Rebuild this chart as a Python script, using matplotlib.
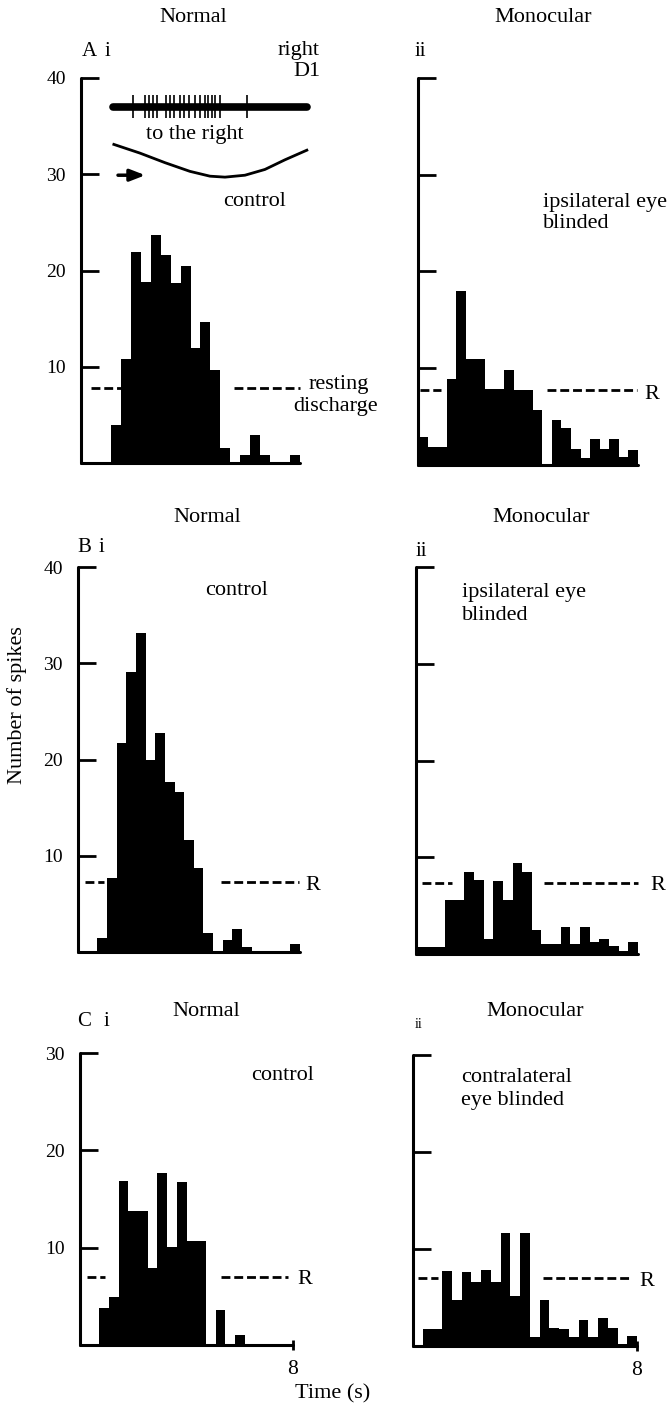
import matplotlib.pyplot as plt
import numpy as np

W, H = 670, 1409
plt.rcParams['font.family'] = ['Liberation Serif', 'DejaVu Serif']

# spike counts per bin, every panel's bins cover 0-8 s
a_normal = [0, 0, 0, 3.9, 10.8, 21.9, 18.8, 23.7, 21.6, 18.7, 20.5, 11.9, 14.7, 9.7,
            1.6, 0, 0.8, 2.9, 0.8, 0, 0, 0.8]
a_mono = [2.9, 1.9, 1.9, 8.9, 18, 11, 11, 7.9, 7.9, 9.8, 7.8, 7.8, 5.7, 0, 4.7, 3.8,
          1.7, 0.75, 2.7, 1.7, 2.7, 0.85, 1.6]
b_normal = [0, 0, 1.5, 7.7, 21.7, 29.1, 33.1, 19.9, 22.8, 17.7, 16.6, 11.6, 8.7, 2.0,
            0, 1.2, 2.4, 0.5, 0, 0, 0, 0, 0.8]
b_mono = [0.7, 0.7, 0.7, 5.6, 5.6, 8.5, 7.7, 1.5, 7.5, 5.6, 9.4, 8.5, 2.5, 1.0, 1.0,
          2.8, 1.0, 2.8, 1.2, 1.5, 0.8, 0.3, 1.2]
c_normal = [0, 0, 3.8, 4.9, 16.8, 13.8, 13.8, 7.9, 17.7, 10.1, 16.7, 10.7, 10.7, 0,
            3.6, 0, 1.0, 0, 0, 0, 0, 0]
c_mono = [0, 1.8, 1.8, 7.7, 4.7, 7.6, 6.6, 7.8, 6.6, 11.6, 5.2, 11.6, 0.9, 4.7, 1.9,
          1.8, 0.9, 2.7, 0.9, 2.85, 1.9, 0.2, 1.0]

# resting discharge level and the two dashed stretches (s)
rest_level = [7.8, 7.8, 7.3, 7.3, 7.0, 7.0]
rest_left = [(0.35, 1.5), (0.07, 0.85), (0.25, 0.95), (0.2, 1.3), (0.25, 0.95), (0.17, 0.9)]
rest_right = [(5.6, 8.0), (4.7, 7.95), (5.15, 7.95), (4.6, 8.0), (5.3, 7.8), (4.65, 7.8)]

# stimulus inset in A i
spike_times = [1.91, 2.34, 2.5, 2.64, 2.79, 3.09, 3.25, 3.39, 3.61, 3.77, 3.94, 4.16,
               4.34, 4.53, 4.65, 4.77, 4.89, 5.07, 6.05]
stim_t = [1.2, 2.15, 3.07, 3.98, 4.71, 5.26, 5.99, 6.72, 7.45, 8.25]
stim_y = [33.1, 32.2, 31.2, 30.3, 29.8, 29.7, 29.9, 30.5, 31.5, 32.5]

# panel boxes in pixels: x left, x right (8 s), y top, y zero
boxes = [(81, 300, 78, 463), (418, 638, 78, 465),
         (78, 300, 567, 952), (416, 638, 567, 954),
         (80, 293, 1053, 1345), (413, 637, 1055, 1346)]
counts = [a_normal, a_mono, b_normal, b_mono, c_normal, c_mono]
ymax = [40, 40, 40, 40, 30, 30]

fig = plt.figure(figsize=(W / 100, H / 100), dpi=100)


def ftext(x, y, s, **kw):
    kw.setdefault('fontsize', 16)
    kw.setdefault('va', 'center')
    fig.text(x / W, 1 - y / H, s, **kw)


axes = []
for k, (x0, x1, yt, y0) in enumerate(boxes):
    ax = fig.add_axes([x0 / W, 1 - y0 / H, (x1 - x0) / W, (y0 - yt) / H])
    vals = counts[k]
    edges = np.linspace(0, 8, len(vals) + 1)
    ax.stairs(vals, edges, fill=True, color='black', lw=0)
    ax.set_xlim(0, 8)
    ax.set_ylim(0, ymax[k])
    for s in ['top', 'right']:
        ax.spines[s].set_visible(False)
    for s in ['left', 'bottom']:
        ax.spines[s].set_linewidth(2.2)
        ax.spines[s].set_capstyle('round')
    ax.set_yticks(np.arange(10, ymax[k] + 1, 10))
    ax.tick_params(axis='y', direction='in', length=13, width=2, pad=11, labelsize=14)
    if k % 2 == 1:
        ax.set_yticklabels([])
    if k >= 4:
        ax.set_xticks([8])
        ax.tick_params(axis='x', direction='inout', length=7, width=2, pad=7, labelsize=15.5)
    else:
        ax.set_xticks([])
    ax.patch.set_alpha(0)
    lv = rest_level[k]
    for a, b in (rest_left[k], rest_right[k]):
        ax.plot([a, b], [lv, lv], color='black', lw=2.0, ls=(0, (3.2, 1.4)),
                solid_capstyle='butt', clip_on=False)
    axes.append(ax)

# A i stimulus record
ax = axes[0]
ax.plot([1.17, 8.25], [37.0, 37.0], color='black', lw=5.5, solid_capstyle='round', clip_on=False)
ax.vlines(spike_times, 35.8, 38.2, color='black', lw=1.2, clip_on=False)
ax.plot(stim_t, stim_y, color='black', lw=2, clip_on=False)
ax.annotate('', xy=(2.45, 29.9), xytext=(1.25, 29.9),
            arrowprops=dict(arrowstyle='-|>,head_length=0.9,head_width=0.35', color='black', lw=2.5))

# titles and labels
for x, y in [(193, 18), (207, 517), (206, 1012)]:
    ftext(x, y, 'Normal', ha='center')
for x, y in [(543, 18), (541, 518), (535, 1012)]:
    ftext(x, y, 'Monocular', ha='center')

ftext(82, 52, 'A', ha='left', fontsize=15)
ftext(105, 52, 'i', ha='left', fontsize=15)
ftext(415, 52, 'ii', ha='left', fontsize=15)
ftext(77, 548, 'B', ha='left', fontsize=15)
ftext(99, 548, 'i', ha='left', fontsize=15)
ftext(416, 551, 'ii', ha='left', fontsize=15)
ftext(77, 1022, 'C', ha='left', fontsize=15)
ftext(104, 1022, 'i', ha='left', fontsize=15)
ftext(415, 1025, 'ii', ha='left', fontsize=10)

ftext(320, 50, 'right', ha='right')
ftext(320, 71, 'D1', ha='right')
ftext(195, 134, 'to the right', ha='center')
ftext(255, 201, 'control', ha='center')
ftext(309, 385, 'resting', ha='left')
ftext(293, 407, 'discharge', ha='left')

ftext(543, 203, 'ipsilateral eye', ha='left')
ftext(543, 223, 'blinded', ha='left')
ftext(652, 395, 'R', ha='center')

ftext(237, 590, 'control', ha='center')
ftext(313, 885, 'R', ha='center')
ftext(462, 593, 'ipsilateral eye', ha='left')
ftext(462, 615, 'blinded', ha='left')
ftext(658, 885, 'R', ha='center')

ftext(283, 1075, 'control', ha='center')
ftext(305, 1280, 'R', ha='center')
ftext(461, 1077, 'contralateral', ha='left')
ftext(461, 1100, 'eye blinded', ha='left')
ftext(647, 1282, 'R', ha='center')

ftext(17, 705, 'Number of spikes', ha='center', rotation=90)
ftext(333, 1394, 'Time (s)', ha='center')

fig.savefig('out.png', dpi=100)
